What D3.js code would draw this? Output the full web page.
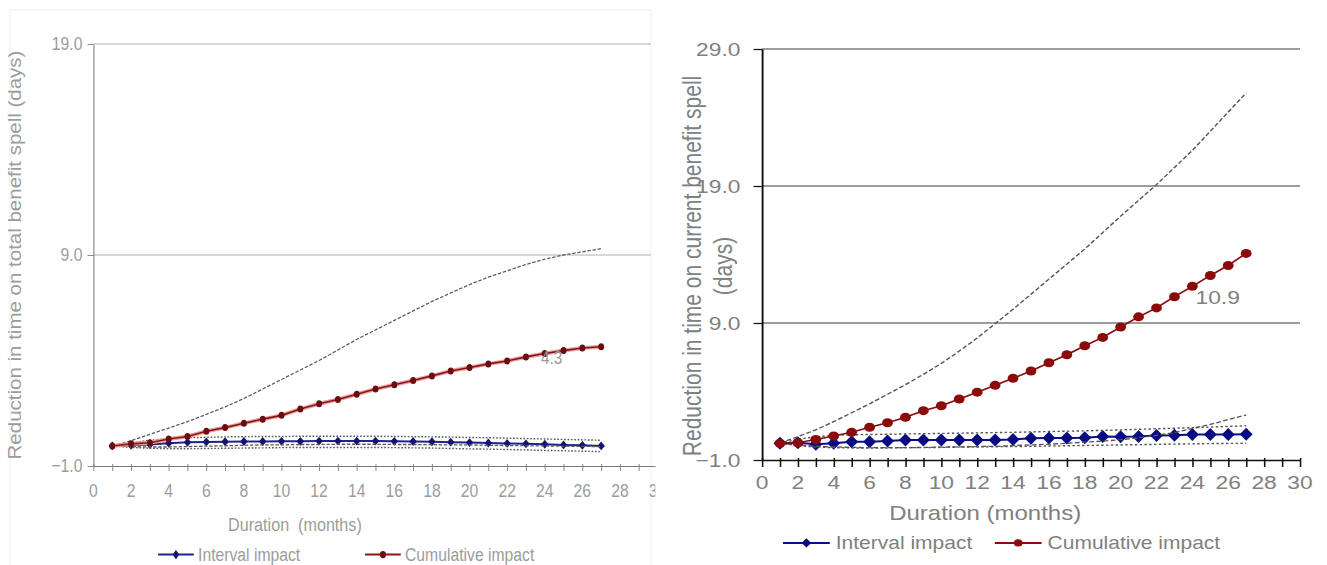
<!DOCTYPE html>
<html>
<head>
<meta charset="utf-8">
<script src="https://d3js.org/d3.v7.min.js"></script>
<style>
  body { margin: 0; background: #fff; }
  svg { display: block; font-family: "Liberation Sans", Arial, sans-serif; }
</style>
</head>
<body>
<script>

// months since start
var months = [1, 2, 3, 4, 5, 6, 7, 8, 9, 10, 11, 12, 13, 14, 15, 16, 17, 18, 19, 20, 21, 22, 23, 24, 25, 26, 27];
var xTicks = [0, 2, 4, 6, 8, 10, 12, 14, 16, 18, 20, 22, 24, 26, 28, 30];
var seriesNames = ["Interval impact", "Cumulative impact"];

// left chart: total benefit spell
var leftYTicks = [-1, 9, 19];
var leftInterval   = [-0.05, -0.02, 0.02, 0.08, 0.12, 0.14, 0.15, 0.16, 0.16, 0.17, 0.17, 0.18, 0.18, 0.18, 0.18, 0.17, 0.16, 0.15, 0.13, 0.11, 0.09, 0.07, 0.05, 0.03, 0.0, -0.02, -0.05];
var leftIntUpper   = [-0.05, 0.1, 0.22, 0.3, 0.34, 0.36, 0.38, 0.39, 0.4, 0.4, 0.41, 0.41, 0.41, 0.41, 0.41, 0.4, 0.39, 0.38, 0.37, 0.35, 0.34, 0.32, 0.3, 0.28, 0.26, 0.24, 0.22];
var leftIntLower   = [-0.05, -0.12, -0.16, -0.18, -0.18, -0.17, -0.16, -0.15, -0.14, -0.13, -0.12, -0.12, -0.12, -0.12, -0.12, -0.13, -0.14, -0.15, -0.17, -0.19, -0.2, -0.22, -0.24, -0.26, -0.28, -0.3, -0.32];
var leftCumulative = [-0.05, 0.05, 0.1, 0.28, 0.4, 0.65, 0.82, 1.03, 1.22, 1.4, 1.7, 1.95, 2.15, 2.4, 2.65, 2.85, 3.05, 3.27, 3.5, 3.67, 3.84, 3.98, 4.17, 4.33, 4.47, 4.59, 4.65];
var leftCumUpper   = [-0.05, 0.2, 0.5, 0.8, 1.1, 1.45, 1.8, 2.2, 2.65, 3.1, 3.55, 4.0, 4.5, 5.0, 5.45, 5.9, 6.35, 6.8, 7.2, 7.6, 7.95, 8.25, 8.55, 8.8, 9.0, 9.15, 9.3];
var leftCumLower   = [-0.05, -0.08, -0.1, -0.1, -0.08, -0.06, -0.04, -0.02, 0.0, 0.0, 0.02, 0.02, 0.03, 0.03, 0.03, 0.02, 0.02, 0.01, 0.0, 0.0, -0.02, -0.03, -0.04, -0.05, -0.06, -0.07, -0.08];

// right chart: current benefit spell
var rightYTicks = [-1, 9, 19, 29];
var rightInterval   = [0.22, 0.26, 0.15, 0.22, 0.34, 0.34, 0.39, 0.46, 0.46, 0.46, 0.46, 0.46, 0.46, 0.5, 0.58, 0.6, 0.6, 0.62, 0.72, 0.7, 0.72, 0.78, 0.8, 0.87, 0.87, 0.87, 0.88];
var rightIntUpper   = [0.25, 0.5, 0.7, 0.8, 0.84, 0.86, 0.88, 0.9, 0.92, 0.94, 0.96, 0.98, 1.0, 1.02, 1.05, 1.08, 1.1, 1.13, 1.16, 1.2, 1.24, 1.28, 1.32, 1.36, 1.4, 1.45, 1.5];
var rightIntLower   = [0.2, 0.05, -0.05, -0.1, -0.12, -0.12, -0.12, -0.1, -0.1, -0.08, -0.06, -0.05, -0.03, -0.02, 0.0, 0.02, 0.04, 0.06, 0.08, 0.1, 0.12, 0.14, 0.16, 0.18, 0.2, 0.21, 0.22];
var rightCumulative = [0.22, 0.26, 0.5, 0.75, 1.02, 1.39, 1.72, 2.12, 2.6, 2.96, 3.45, 3.95, 4.45, 4.97, 5.5, 6.1, 6.68, 7.34, 7.95, 8.71, 9.45, 10.1, 10.92, 11.68, 12.47, 13.2, 14.08];
var rightCumUpper   = [0.25, 0.7, 1.2, 1.8, 2.45, 3.1, 3.8, 4.5, 5.25, 6.05, 6.95, 7.9, 8.95, 10.0, 11.1, 12.2, 13.3, 14.4, 15.6, 16.8, 17.95, 19.1, 20.35, 21.6, 23.0, 24.4, 25.8];
var rightCumLower   = [0.2, 0.1, 0.0, -0.05, -0.08, -0.1, -0.1, -0.1, -0.08, -0.06, -0.04, -0.02, 0.0, 0.05, 0.1, 0.15, 0.22, 0.3, 0.38, 0.48, 0.62, 0.8, 1.0, 1.3, 1.6, 1.95, 2.28];

var svg = d3.select("body").append("svg")
    .attr("width", 1327)
    .attr("height", 565);

var fmt = d3.format(".1f");

function diamond(w, h) {
  return "M0," + (-h) + "L" + w + ",0L0," + h + "L" + (-w) + ",0Z";
}

function drawPanel(p) {

  // each panel is squeezed / stretched sideways like the source picture
  var outer = svg.append("g").attr("transform", "scale(" + p.sx + ",1)");

  if (p.frame) {
    outer.append("rect")
        .attr("x", p.frame[0]).attr("y", p.frame[1])
        .attr("width", p.frame[2]).attr("height", p.frame[3])
        .attr("fill", "none")
        .attr("stroke", "#ececec");
  }

  var g = outer.append("g");
  if (p.clipW) {
    outer.append("clipPath").attr("id", p.id + "-clip")
      .append("rect").attr("x", 0).attr("y", 0).attr("width", p.clipW).attr("height", 565);
    g.attr("clip-path", "url(#" + p.id + "-clip)");
  }

  var x = d3.scaleLinear().domain([0, 30]).range(p.xRange);
  var y = d3.scaleLinear().domain([p.yTicks[0], p.yTicks[p.yTicks.length - 1]]).range(p.yRange);

  // gridlines
  g.selectAll(".grid")
      .data(p.yTicks.slice(1))
    .enter().append("line")
      .attr("x1", x(0)).attr("x2", p.gridX2)
      .attr("y1", function(d) { return y(d); })
      .attr("y2", function(d) { return y(d); })
      .attr("stroke", p.gridColor)
      .attr("stroke-width", p.gridWidth);

  // x axis: a tick for every month, labels on even months
  var xAxis = g.append("g")
      .attr("transform", "translate(0," + y(p.yTicks[0]) + ")")
      .call(d3.axisBottom(x).tickValues(d3.range(0, 31)).tickSizeInner(p.tickLen).tickSizeOuter(0).tickFormat(""));
  xAxis.select(".domain").attr("stroke", p.axisColor).attr("stroke-width", p.axisWidth);
  xAxis.selectAll(".tick line")
      .attr("stroke", p.axisColor)
      .attr("stroke-width", p.axisWidth * 0.8)
      .attr("y1", -2);

  g.append("g").selectAll("text")
      .data(xTicks)
    .enter().append("text")
      .attr("x", function(d) { return x(d); })
      .attr("y", p.xLabelY)
      .attr("text-anchor", "middle")
      .attr("font-size", p.tickFont)
      .attr("fill", p.textColor)
      .text(function(d) { return d; });

  // y axis
  var yAxis = g.append("g")
      .attr("transform", "translate(" + x(0) + ",0)")
      .call(d3.axisLeft(y).tickValues(p.yTicks).tickSizeInner(p.yTickLen).tickSizeOuter(0).tickPadding(p.yPad).tickFormat(fmt));
  yAxis.select(".domain").attr("stroke", p.axisColor).attr("stroke-width", p.axisWidth);
  yAxis.selectAll(".tick line").attr("stroke", p.axisColor).attr("stroke-width", p.axisWidth * 0.8);
  yAxis.selectAll(".tick text")
      .attr("font-size", p.tickFont)
      .attr("font-family", "Liberation Sans, Arial, sans-serif")
      .attr("fill", p.textColor);

  // axis titles
  g.append("text")
      .attr("x", p.xTitle[0]).attr("y", p.xTitle[1])
      .attr("text-anchor", "middle")
      .attr("font-size", p.titleFont)
      .attr("fill", p.textColor)
      .style("white-space", "pre")
      .text(p.xTitleText);

  var yt = g.append("text")
      .attr("transform", "translate(" + p.yTitle[0] + "," + p.yTitle[1] + ") rotate(-90)")
      .attr("text-anchor", "middle")
      .attr("font-size", p.yTitleFont)
      .attr("fill", p.textColor);
  p.yTitleLines.forEach(function(t, i) {
    yt.append("tspan").attr("x", 0).attr("dy", i == 0 ? 0 : p.yTitleGap).text(t);
  });

  var line = d3.line()
      .x(function(d) { return x(d[0]); })
      .y(function(d) { return y(d[1]); });

  // interval impact
  g.append("path")
      .datum(d3.zip(months, p.interval))
      .attr("d", line)
      .attr("fill", "none")
      .attr("stroke", p.blue)
      .attr("stroke-width", p.lineWidth);
  g.append("g").selectAll("path")
      .data(d3.zip(months, p.interval))
    .enter().append("path")
      .attr("transform", function(d) { return "translate(" + x(d[0]) + "," + y(d[1]) + ")"; })
      .attr("d", diamond(p.dw, p.dh))
      .attr("fill", p.blueMark);

  // confidence bands
  [p.intUpper, p.intLower].forEach(function(v) {
    g.append("path")
        .datum(d3.zip(months, v))
        .attr("d", line)
        .attr("fill", "none")
        .attr("stroke", p.bandColor)
        .attr("stroke-width", 1.4)
        .attr("stroke-dasharray", "2,2");
  });
  [p.cumUpper, p.cumLower].forEach(function(v) {
    g.append("path")
        .datum(d3.zip(months, v))
        .attr("d", line)
        .attr("fill", "none")
        .attr("stroke", p.bandColor)
        .attr("stroke-width", 1.3)
        .attr("stroke-dasharray", "4,2");
  });

  // cumulative impact
  if (p.glow) {
    g.append("path")
        .datum(d3.zip(months, p.cumulative))
        .attr("d", line)
        .attr("fill", "none")
        .attr("stroke", p.glow)
        .attr("stroke-width", 4);
  }
  g.append("path")
      .datum(d3.zip(months, p.cumulative))
      .attr("d", line)
      .attr("fill", "none")
      .attr("stroke", p.red)
      .attr("stroke-width", p.lineWidth * 0.8);
  g.append("g").selectAll("circle")
      .data(d3.zip(months, p.cumulative))
    .enter().append("circle")
      .attr("cx", function(d) { return x(d[0]); })
      .attr("cy", function(d) { return y(d[1]); })
      .attr("r", p.r)
      .attr("fill", p.redMark);

  // value label
  var li = p.labelMonth - 1;
  g.append("text")
      .attr("x", x(months[li]) + p.labelOffset[0])
      .attr("y", y(p.cumulative[li]) + p.labelOffset[1])
      .attr("text-anchor", "middle")
      .attr("font-size", p.labelFont)
      .attr("fill", p.labelColor)
      .text(fmt(p.cumulative[li]));

  // legend
  var leg = g.append("g");
  seriesNames.forEach(function(name, i) {
    var lx = p.legend[i];
    var c = i == 0 ? p.blue : p.red;
    leg.append("line")
        .attr("x1", lx).attr("x2", lx + p.legendLine)
        .attr("y1", p.legendY - p.legendFont * 0.35).attr("y2", p.legendY - p.legendFont * 0.35)
        .attr("stroke", c).attr("stroke-width", 2);
    if (i == 0) {
      leg.append("path")
          .attr("transform", "translate(" + (lx + p.legendLine / 2) + "," + (p.legendY - p.legendFont * 0.35) + ")")
          .attr("d", diamond(p.legendMark, p.legendMark * 1.15))
          .attr("fill", p.blueMark);
    } else {
      leg.append("circle")
          .attr("cx", lx + p.legendLine / 2)
          .attr("cy", p.legendY - p.legendFont * 0.35)
          .attr("r", p.legendMark * 0.9)
          .attr("fill", p.redMark);
    }
    leg.append("text")
        .attr("x", lx + p.legendLine + 5)
        .attr("y", p.legendY)
        .attr("font-size", p.legendFont)
        .attr("fill", p.textColor)
        .text(name);
  });
}

drawPanel({
  id: "left", sx: 0.85,
  frame: [11.8, 10, 754, 600], clipW: 771,
  xRange: [110, 773.6], yRange: [466, 44], yTicks: leftYTicks, gridX2: 765.9,
  gridColor: "#a8a8a8", gridWidth: 1, axisColor: "#7a7a7a", axisWidth: 1.2,
  tickLen: 5, yTickLen: 7, yPad: 6, tickFont: 18.5, xLabelY: 497,
  textColor: "#9c9c9c", titleFont: 19, xTitle: [347, 531], xTitleText: "Duration  (months)",
  yTitle: [25, 255], yTitleFont: 20.5, yTitleLines: ["Reduction in time on total benefit spell (days)"], yTitleGap: 0,
  interval: leftInterval, intUpper: leftIntUpper, intLower: leftIntLower,
  cumulative: leftCumulative, cumUpper: leftCumUpper, cumLower: leftCumLower,
  blue: "#22228a", blueMark: "#141470", red: "#8a1414", redMark: "#6a0c10", glow: "#e8a0a0",
  bandColor: "#5a5a5a", lineWidth: 2, dw: 4.4, dh: 4.4, r: 3.5,
  labelMonth: 24, labelOffset: [8, 10], labelFont: 18, labelColor: "#999",
  legend: [186, 429.5], legendLine: 42, legendY: 561, legendFont: 18.5, legendMark: 4
});

drawPanel({
  id: "right", sx: 1.2,
  xRange: [635, 1083.3], yRange: [460, 49], yTicks: rightYTicks, gridX2: 1083.3,
  gridColor: "#3a3a3a", gridWidth: 1.2, axisColor: "#111", axisWidth: 1.6,
  tickLen: 7, yTickLen: 7, yPad: 11, tickFont: 19, xLabelY: 489,
  textColor: "#808080", titleFont: 20, xTitle: [821, 520], xTitleText: "Duration (months)",
  yTitle: [584, 266], yTitleFont: 21, yTitleLines: ["Reduction in time on current benefit spell", "(days)"], yTitleGap: 26,
  interval: rightInterval, intUpper: rightIntUpper, intLower: rightIntLower,
  cumulative: rightCumulative, cumUpper: rightCumUpper, cumLower: rightCumLower,
  blue: "#0c0c8c", blueMark: "#0a0a82", red: "#8b0e0e", redMark: "#8b0a0a", glow: null,
  bandColor: "#555", lineWidth: 2, dw: 5.4, dh: 6.5, r: 4.5,
  labelMonth: 23, labelOffset: [36, 7], labelFont: 19, labelColor: "#808080",
  legend: [652.5, 829], legendLine: 39, legendY: 549, legendFont: 17.5, legendMark: 4
});

</script>
</body>
</html>
